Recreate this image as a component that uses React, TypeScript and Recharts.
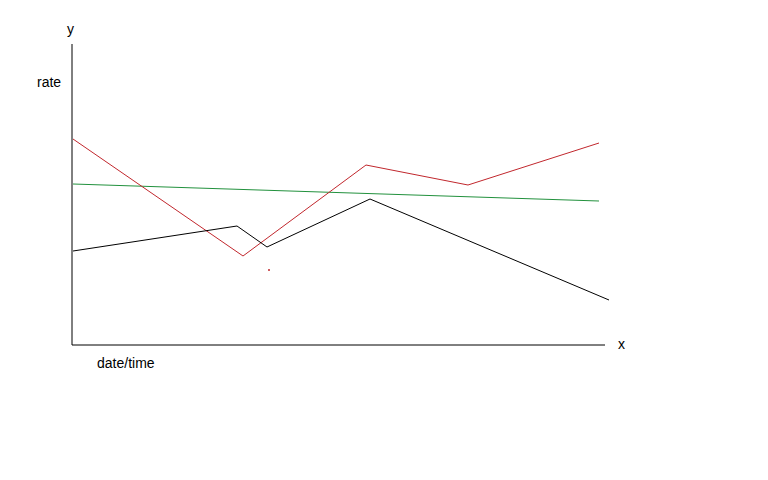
import { LineChart, Line, XAxis, YAxis, ReferenceLine, ReferenceDot } from 'recharts'

// x/y in drawing units: x grows right from the y axis, y grows up from the x axis
const blackSeries = [
  { x: 1, y: 94 },
  { x: 165, y: 119 },
  { x: 195, y: 98 },
  { x: 298, y: 146 },
  { x: 537, y: 45 },
]

const redSeries = [
  { x: 1, y: 206 },
  { x: 171, y: 89 },
  { x: 294, y: 180 },
  { x: 396, y: 160 },
  { x: 527, y: 202 },
]

const greenSeries = [
  { x: 1, y: 161 },
  { x: 527, y: 144 },
]

const strayDot = { x: 197, y: 75 }

const xAxisEnd = 533
const yAxisTop = 301

const labelStyle: React.CSSProperties = {
  position: 'absolute',
  fontFamily: '"Liberation Sans", Arial, sans-serif',
  fontSize: 14,
  lineHeight: '16px',
  color: '#000',
  whiteSpace: 'nowrap',
}

export default function App() {
  return (
    <div style={{ position: 'absolute', left: 0, top: 0, width: 768, height: 480, background: '#fff' }}>
      <LineChart width={768} height={480} margin={{ top: 44, right: 159, left: 72, bottom: 135 }}>
        <XAxis type="number" dataKey="x" domain={[0, 537]} hide />
        <YAxis type="number" domain={[0, yAxisTop]} hide />
        <ReferenceLine segment={[{ x: 0, y: 0 }, { x: 0, y: yAxisTop }]} stroke="#000" strokeWidth={1} />
        <ReferenceLine segment={[{ x: 0, y: 0 }, { x: xAxisEnd, y: 0 }]} stroke="#000" strokeWidth={1} />
        <Line data={greenSeries} dataKey="y" type="linear" stroke="#22913d" strokeWidth={1} dot={false} isAnimationActive={false} />
        <Line data={redSeries} dataKey="y" type="linear" stroke="#c1272d" strokeWidth={1} dot={false} isAnimationActive={false} />
        <Line data={blackSeries} dataKey="y" type="linear" stroke="#000" strokeWidth={1} dot={false} isAnimationActive={false} />
        <ReferenceDot x={strayDot.x} y={strayDot.y} r={1} fill="#c1272d" stroke="none" />
      </LineChart>
      <div style={{ ...labelStyle, left: 67, top: 21 }}>y</div>
      <div style={{ ...labelStyle, left: 37, top: 74 }}>rate</div>
      <div style={{ ...labelStyle, left: 618, top: 336 }}>x</div>
      <div style={{ ...labelStyle, left: 97, top: 355 }}>date/time</div>
    </div>
  )
}
